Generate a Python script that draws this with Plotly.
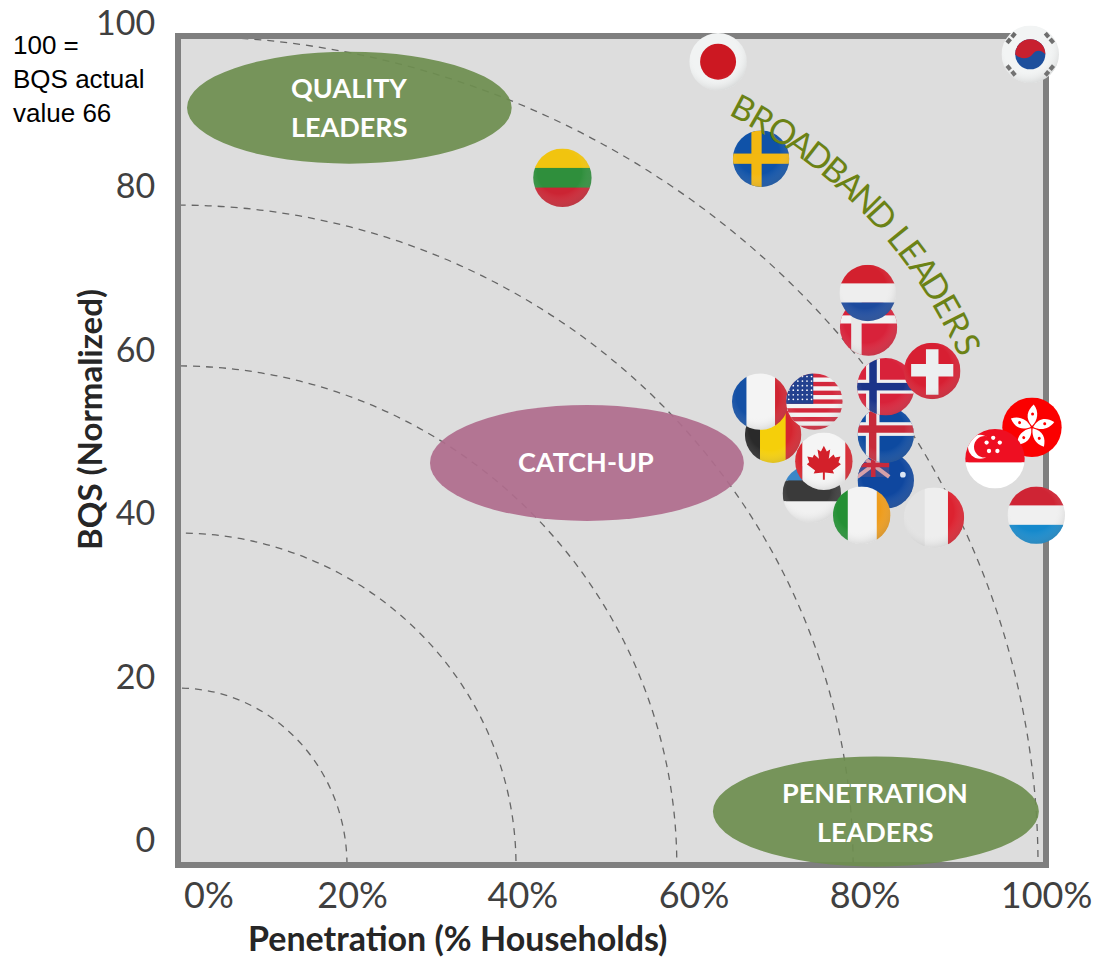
import base64
import math
import plotly.graph_objects as go

countries = ["Belgium", "France", "USA", "Estonia", "Canada", "Australia", "Iceland", "Norway",
             "Switzerland", "Ireland", "Italy", "Denmark", "Netherlands", "Hong Kong", "Singapore",
             "Luxembourg", "Japan", "Korea", "Sweden", "Lithuania"]
penetration = [69.2, 67.7, 74.0, 73.7, 75.1, 82.3, 82.3, 82.3, 87.7, 79.5, 87.9, 80.3, 80.2, 99.3, 95.0,
               99.8, 62.8, 99.1, 67.8, 44.7]
bqs = [51.9, 55.9, 55.9, 44.8, 48.7, 46.4, 51.9, 57.7, 59.6, 42.2, 41.9, 64.9, 69.0, 52.8, 49.0,
       42.2, 96.9, 97.8, 85.2, 82.9]
base_colors = ["#e8c800", "#f0f0f0", "#d8283a", "#444444", "#eeeeee", "#0d4aa0", "#0d4aa0", "#d8283a",
               "#d8283a", "#f0f0f0", "#eeeeee", "#d8283a", "#eeeeee", "#f00000", "#ee1122",
               "#eeeeee", "#eeeeee", "#eeeeee", "#0d4aa0", "#2f8f3c"]
flag_sizes = [57, 57, 57, 59, 58, 57, 57, 58, 57, 58, 61, 58, 57, 60, 60, 58, 58, 58, 57, 59]
ring_levels = [20, 40, 60, 80, 100]
ring_x = [19.65, 39.3, 58.0, 78.5, 100.0]
ring_y = [21.35, 40.05, 60.2, 79.6, 100.0]
x_tick_pos = [3.6, 20.3, 40.1, 60.0, 79.9, 101.0]
x_tick_labels = ["0%", "20%", "40%", "60%", "80%", "100%"]
y_tick_pos = [101.6, 81.9, 62.1, 42.5, 22.7, 3.0]
y_tick_labels = ["100", "80", "60", "40", "20", "0"]

PX_X, PX_Y = 8.6, 8.29
LEFT, BOTTOM = 170, 869
def dx(px): return (px - 178) / PX_X
def dy(py): return (865 - py) / PX_Y

def bars_h(*cols):
    h = 100 / len(cols)
    return "".join(f'<rect x="0" y="{i*h}" width="100" height="{h+.5}" fill="{c}"/>' for i, c in enumerate(cols))
def bars_v(*cols, w=(25, 50, 25)):
    out, x = "", 0
    for c, wi in zip(cols, w):
        out += f'<rect x="{x}" y="0" width="{wi+.5}" height="100" fill="{c}"/>'
        x += wi
    return out
def cross(bg, c1, cx, cy, t1, c2=None, t2=0):
    s = f'<rect width="100" height="100" fill="{bg}"/>'
    s += f'<rect x="{cx-t1/2}" y="0" width="{t1}" height="100" fill="{c1}"/><rect x="0" y="{cy-t1/2}" width="100" height="{t1}" fill="{c1}"/>'
    if c2:
        s += f'<rect x="{cx-t2/2}" y="0" width="{t2}" height="100" fill="{c2}"/><rect x="0" y="{cy-t2/2}" width="100" height="{t2}" fill="{c2}"/>'
    return s
usa = '<rect width="100" height="100" fill="#f4f4f4"/>' + "".join(
    f'<rect x="0" y="{i*15.4}" width="100" height="7.7" fill="#d3283c"/>' for i in range(7)) + \
    '<rect width="48" height="54" fill="#23418f"/>' + "".join(
    f'<circle cx="{5+c*8}" cy="{6+r*8}" r="1.5" fill="#fff"/>' for r in range(6) for c in range(6))
leaf = "50,18 56,30 63,26 60,45 70,36 73,42 84,40 80,52 85,56 68,69 71,75 52,73 52,88 48,88 48,73 29,75 32,69 15,56 20,52 16,40 27,42 30,36 40,45 37,26 44,30"
canada = bars_v("#d9252f", "#f5f5f5", "#d9252f", w=(13, 74, 13)) + f'<polygon points="{leaf}" fill="#d3202a" transform="translate(8 8) scale(.84)"/>'
aus = '<rect width="100" height="100" fill="#0f479f"/><g transform="translate(0 2)"><rect width="56" height="42" fill="#3a4f94"/>' \
      '<path d="M0 0L56 42M56 0L0 42" stroke="#d6a0a8" stroke-width="7"/><path d="M28 0V42M0 21H56" stroke="#c82a3c" stroke-width="8"/></g>' \
      '<circle cx="80" cy="40" r="5" fill="#dbe6f5"/>'
hk = '<rect width="100" height="100" fill="#fb0000"/>' + "".join(
    f'<g transform="rotate({a} 50 50)"><path d="M50 48C38 34 42 22 53 12C62 24 60 38 50 48Z" fill="#fff"/><circle cx="51" cy="28" r="2.5" fill="#f00"/></g>' for a in (0, 72, 144, 216, 288))
sg = '<rect width="100" height="56" fill="#ee0f22"/><rect y="56" width="100" height="44" fill="#fff"/>' \
     '<circle cx="25" cy="30" r="20" fill="#fff"/><circle cx="33" cy="30" r="18" fill="#ee0f22"/>' + "".join(
     f'<circle cx="{x}" cy="{y}" r="3.6" fill="#fff"/>' for x, y in ((47, 15), (58, 23), (54, 37), (40, 37), (36, 23)))
korea = '<rect width="100" height="100" fill="#f2f4f4"/>' \
        '<circle cx="50" cy="50" r="26" fill="#1d4f9c"/><path d="M24 50A26 26 0 0 1 76 50C68 42 60 42 54 50C48 58 33 60 24 50Z" fill="#c8202f"/>' + "".join(
        f'<rect x="-11" y="-3.5" width="9" height="7" fill="#6a6a6a" transform="translate({x} {y}) rotate({a})"/>'
        f'<rect x="2" y="-3.5" width="9" height="7" fill="#6a6a6a" transform="translate({x} {y}) rotate({a})"/>'
        for x, y, a in ((17, 22, -50), (83, 22, 50), (17, 78, 50), (83, 78, -50)))
japan = '<rect width="100" height="100" fill="#f1f3f3"/><circle cx="50" cy="50" r="31" fill="#cc1822"/>'

flags = {
    "Belgium": bars_v("#2a2a2a", "#f5cf0a", "#d5252f", w=(27, 45, 28)),
    "France": bars_v("#1450a5", "#f4f4f4", "#cf2431", w=(26, 50, 24)),
    "USA": usa,
    "Estonia": '<rect width="100" height="28" fill="#3a86c8"/><rect y="28" width="100" height="35" fill="#3a3a3a"/><rect y="63" width="100" height="37" fill="#f1f1f1"/>',
    "Canada": canada,
    "Australia": aus,
    "Iceland": cross("#0d4aa0", "#eeeeee", 27, 40, 24, "#c72a3a", 13),
    "Norway": cross("#d8223a", "#f0f0f0", 28, 50, 24, "#1b3489", 13),
    "Switzerland": '<rect width="100" height="100" fill="#d71f32"/><path d="M39 12H61V38H87V60H61V92H39V60H13V38H39Z" fill="#eceff0"/>',
    "Ireland": bars_v("#249034", "#f3f3f3", "#ee9c1c", w=(26, 50, 24)),
    "Italy": bars_v("#e3e3e3", "#eeeeee", "#dd2230", w=(35, 38, 27)),
    "Denmark": '<rect width="100" height="100" fill="#d8223a"/><rect y="30" width="100" height="14" fill="#f2f2f2"/><rect x="20" width="18" height="100" fill="#e8e8e8"/>',
    "Netherlands": bars_h("#d3202e", "#eeeeee", "#1c4a9e"),
    "Hong Kong": hk,
    "Singapore": sg,
    "Luxembourg": bars_h("#cf2434", "#f0f0f0", "#1589cc"),
    "Japan": japan,
    "Korea": korea,
    "Sweden": cross("#0f52a8", "#f3b811", 42, 50, 18),
    "Lithuania": bars_h("#f1c40f", "#2f8f3c", "#cb2433"),
}
FLAT = {"Hong Kong", "Singapore"}

def flag_uri(name, i):
    shade = "" if name in FLAT else (
        f'<circle cx="50" cy="50" r="50" fill="url(#s{i})"/>')
    svg = (f'<svg xmlns="http://www.w3.org/2000/svg" width="200" height="200" viewBox="0 0 100 100"><defs>'
           f'<clipPath id="c{i}"><circle cx="50" cy="50" r="49.5"/></clipPath>'
           f'<radialGradient id="s{i}" cx=".45" cy=".4" r=".62"><stop offset=".6" stop-color="#fff" stop-opacity="0"/>'
           f'<stop offset="1" stop-color="#777" stop-opacity=".22"/></radialGradient></defs>'
           f'<g clip-path="url(#c{i})">{flags[name]}{shade}</g></svg>')
    return "data:image/svg+xml;base64," + base64.b64encode(svg.encode()).decode()

images = [dict(source=flag_uri(n, i), xref="x", yref="y", x=x, y=y,
               sizex=d / PX_X, sizey=d / PX_Y, sizing="stretch",
               xanchor="center", yanchor="middle", layer="above")
          for i, (n, x, y, d) in enumerate(zip(countries, penetration, bqs, flag_sizes))]

FRAME = "#7f7f7f"
shapes = [dict(type="rect", xref="x", yref="y", x0=0, x1=100.93, y0=0, y1=100,
               fillcolor="#dddddd", line_width=0, layer="below")]
for rx, ry in zip(ring_x, ring_y):
    shapes.append(dict(type="circle", xref="x", yref="y", x0=-rx, x1=rx, y0=-ry, y1=ry,
                       line=dict(color="#666666", width=1.3, dash="7px,6px"), layer="below"))
# masks keep the rings inside the frame on the negative side
shapes += [dict(type="rect", xref="x", yref="y", x0=-5, x1=0, y0=-5, y1=105, fillcolor="#fff", line_width=0, layer="below"),
           dict(type="rect", xref="x", yref="y", x0=-5, x1=105, y0=-5, y1=0, fillcolor="#fff", line_width=0, layer="below"),
           dict(type="rect", xref="x", yref="y", x0=0, x1=100.93, y0=0, y1=100,
                line=dict(color=FRAME, width=6), layer="below")]
ellipses = [(1.05, 38.8, 84.6, 98.1, "#6e8e50"), (29.3, 65.8, 41.5, 55.5, "#af6d8d"), (62.2, 100.1, -0.2, 13.1, "#6e8e50")]
for x0, x1, y0, y1, col in ellipses:
    shapes.append(dict(type="circle", xref="x", yref="y", x0=x0, x1=x1, y0=y0, y1=y1,
                       fillcolor=col, opacity=0.93, line_width=0, layer="below"))

annotations = []
def txt(text, px, py, size, color="#ffffff", family="Lato", bold=False, angle=0, xanchor="center", align="center"):
    annotations.append(dict(text=f"<b>{text}</b>" if bold else text,
                            x=(px - LEFT) / (1094 - LEFT), y=(BOTTOM - py) / BOTTOM, xref="paper", yref="paper",
                            showarrow=False, textangle=angle, xanchor=xanchor, yanchor="middle", align=align,
                            font=dict(family=family, size=size, color=color)))

for t, px, py in [("QUALITY", 349, 88), ("LEADERS", 349, 126), ("CATCH-UP", 586, 462),
                  ("PENETRATION", 875, 792), ("LEADERS", 875, 831)]:
    txt(t, px, py, 27, bold=True)
txt("100 =<br>BQS actual<br>value 66", 11, 79, 26, color="#000000", family="Liberation Sans", xanchor="left", align="left")
txt("BQS (Normalized)", 89, 420, 33, color="#262626", bold=True, angle=-90)
txt("Penetration (% Households)", 457, 937, 34, color="#262626", bold=True)

# curved caption, set letter by letter along its arc
curve = "BROADBAND LEADERS"
adv = dict(B=.547, R=.592, O=.638, A=.547, D=.592, N=.592, L=.456, E=.547, S=.547)
adv[" "] = .228
total = sum(adv[c] for c in curve) - adv[curve[0]] / 2 - adv[curve[-1]] / 2
a0, a1 = -62.3, -24.5
pos = 0
for i, c in enumerate(curve):
    if i:
        pos += (adv[curve[i - 1]] + adv[c]) / 2
    if c == " ":
        continue
    a = a0 + (a1 - a0) * pos / total
    px = 511 + 502 * math.cos(math.radians(a))
    py = 552 + 502 * math.sin(math.radians(a))
    txt(c, px, py, 34, color="#6b8215", family="Liberation Sans Narrow, Lato", angle=a + 90)

fig = go.Figure()
fig.add_trace(go.Scatter(x=penetration, y=bqs, text=countries, mode="markers", showlegend=False,
                         hovertemplate="%{text}<br>%{x}%, %{y}<extra></extra>",
                         marker=dict(size=54, color=base_colors, line_width=0)))
fig.update_layout(
    width=1094, height=960, autosize=False, showlegend=False,
    margin=dict(l=LEFT, r=0, t=0, b=960 - BOTTOM, pad=0),
    paper_bgcolor="#ffffff", plot_bgcolor="#ffffff",
    shapes=shapes, images=images, annotations=annotations,
    xaxis=dict(range=[dx(LEFT), dx(1094)], tickmode="array", tickvals=x_tick_pos, ticktext=x_tick_labels,
               showgrid=False, zeroline=False, showline=False, ticks="", ticklabelstandoff=2,
               tickfont=dict(family="Lato", size=36, color="#404040")),
    yaxis=dict(range=[dy(BOTTOM), dy(0)], tickmode="array", tickvals=y_tick_pos, ticktext=y_tick_labels,
               showgrid=False, zeroline=False, showline=False, ticks="outside", ticklen=7, tickcolor="rgba(0,0,0,0)",
               tickfont=dict(family="Lato", size=34, color="#404040")),
)
fig.write_html("out.html", config=dict(displayModeBar=False), post_script="document.body.style.margin='0';")
